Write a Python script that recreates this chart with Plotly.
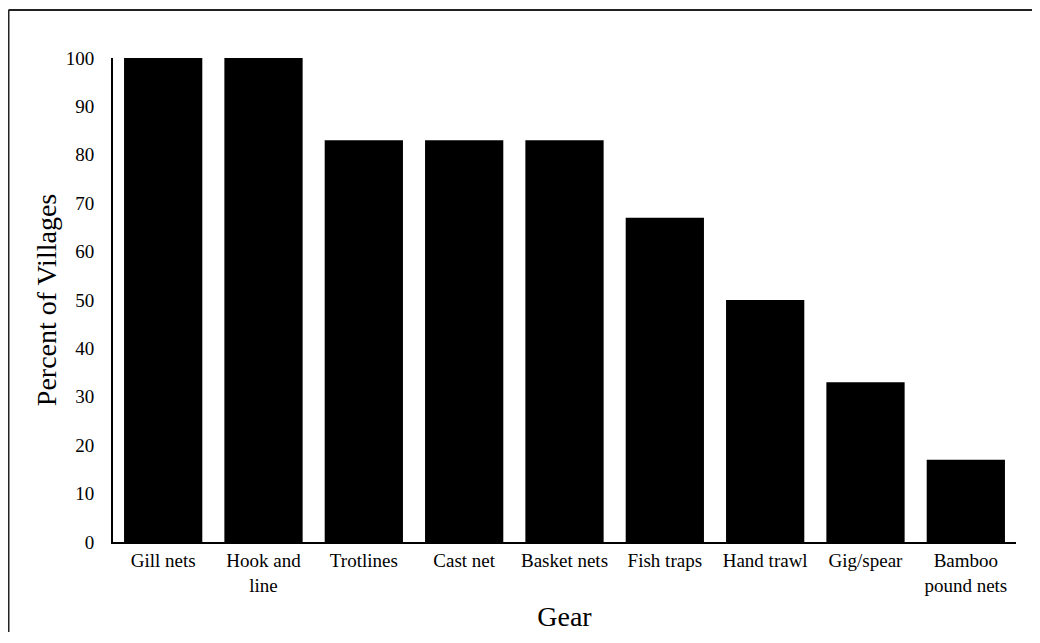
import plotly.graph_objects as go

categories = ["Gill nets", "Hook and<br>line", "Trotlines", "Cast net", "Basket nets",
              "Fish traps", "Hand trawl", "Gig/spear", "Bamboo<br>pound nets"]
percent = [100, 100, 83, 83, 83, 67, 50, 33, 17]
y_ticks = list(range(0, 101, 10))

# page has an 8px body margin; keep the figure inside the window to avoid scrollbars
W, H = 1024, 624
L, R, T, B = 105, 16, 50, 90
pw, ph = W - L - R, H - T - B

fig = go.Figure(go.Bar(x=categories, y=percent, marker=dict(color="black", line=dict(width=0)),
                       width=0.78))

font = "Liberation Serif, Times New Roman, serif"
bx = (0.5 - L) / pw
by = 1 + (T - 2) / ph
border = dict(color="#222", width=2)
fig.update_layout(
    width=W, height=H,
    margin=dict(l=L, r=R, t=T, b=B, autoexpand=False),
    paper_bgcolor="white", plot_bgcolor="white",
    font=dict(family=font, color="black", size=19),
    showlegend=False,
    xaxis=dict(showline=True, linecolor="black", linewidth=2, ticks="", showgrid=False,
               automargin=False,
               title=dict(text="Gear", font=dict(size=28), standoff=15),
               tickfont=dict(size=19)),
    yaxis=dict(range=[0, 100], tickvals=y_ticks, showline=True, linecolor="black", linewidth=2,
               ticks="", showgrid=False, zeroline=False, ticklabelstandoff=13, automargin=False,
               title=dict(text="Percent of Villages", font=dict(size=28), standoff=1),
               tickfont=dict(size=19)),
    shapes=[
        dict(type="line", xref="paper", yref="paper", x0=bx, x1=(W + 5 - L) / pw,
             y0=by, y1=by, line=border, layer="below"),
        dict(type="line", xref="paper", yref="paper", x0=bx, x1=bx,
             y0=by, y1=-(B + 5) / ph, line=border, layer="below"),
    ],
)
fig.write_html("out.html")
